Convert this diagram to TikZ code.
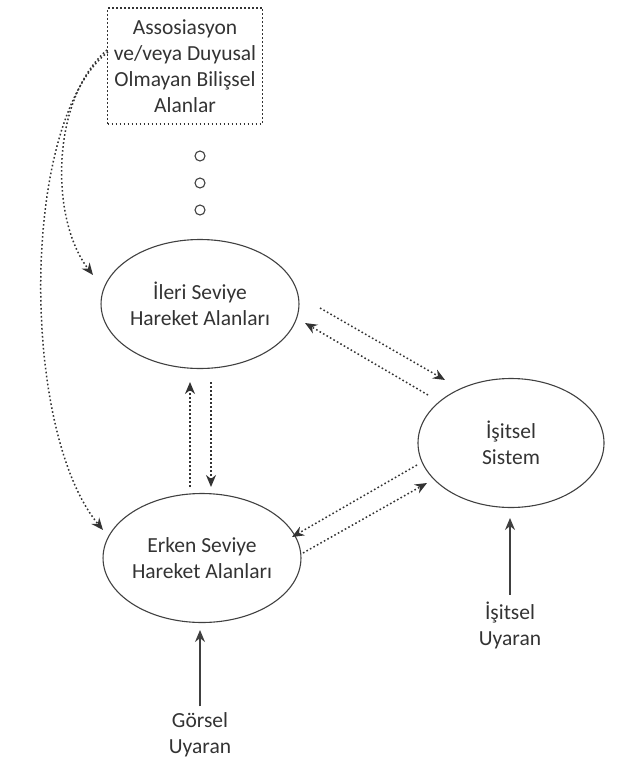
\documentclass[tikz,border=0pt]{standalone}
\usepackage{fontspec}
\setmainfont{Carlito}
\usetikzlibrary{arrows.meta,shapes.geometric,calc}
\begin{document}
\begin{tikzpicture}[x=1pt,y=-1pt,font=\fontsize{21.5}{26}\selectfont,text=black!80]
\tikzstyle{area}=[draw=black!75,line width=1.1pt,ellipse,minimum width=186pt,minimum height=129pt,inner sep=0pt,align=center]
\tikzstyle{dotline}=[line width=1.5pt,dash pattern=on 1.6pt off 2.4pt,black!80,-{Stealth[length=12pt,width=10pt]}]
\tikzstyle{stim}=[line width=1.3pt,black!75,-{Stealth[length=12pt,width=10pt]}]
\tikzstyle{dot}=[circle,draw=black!75,line width=1.1pt,minimum size=10pt,inner sep=0pt]
\useasboundingbox (0,0) rectangle (616,763);
% nodes
\node[draw=black!80,line width=1.5pt,dash pattern=on 1.6pt off 2.4pt,minimum width=155pt,minimum height=116pt,inner sep=0pt,align=center] (assoc) at (185,66) {Assosiasyon\\ve/veya Duyusal\\Olmayan Bilişsel\\Alanlar};
\foreach \n/\y in {1/156,2/183,3/210}
  \node[dot] (dot\n) at (200,\y) {};
\node[area] (ileri) at (200,304) {İleri Seviye\\Hareket Alanları};
\node[area] (erken) at (202,558) {Erken Seviye\\Hareket Alanları};
\node[area] (isitsel) at (511,443) {İşitsel\\Sistem};
\node[align=center] (gorsel) at (200,735) {Görsel\\Uyaran};
\node[align=center] (isuyaran) at (510,625) {İşitsel\\Uyaran};
% connectors
\draw[dotline] ([shift={(120,4)}]ileri.center) -- ([shift={(-66,-63)}]isitsel.center);
\draw[dotline] ([shift={(-83,-48)}]isitsel.center) -- ([shift={(105,19)}]ileri.center);
\draw[dotline] ([shift={(-94,22)}]isitsel.center) -- ([shift={(90,-21)}]erken.center);
\draw[dotline] ([shift={(101,-5)}]erken.center) -- ([shift={(-84,40)}]isitsel.center);
\draw[dotline] ([shift={(-12,-71)}]erken.center) -- ([shift={(-10,78)}]ileri.center);
\draw[dotline] ([shift={(11,78)}]ileri.center) -- ([shift={(9,-71)}]erken.center);
\draw[dotline] ([shift={(-78,-16)}]assoc.center) .. controls +(-57,50) and +(-43,-55) .. ([shift={(-107,-29)}]ileri.center);
\draw[dotline] ([shift={(-77,-14)}]assoc.center) .. controls +(-88,68) and +(-83,-100) .. ([shift={(-99,-28)}]erken.center);
\draw[stim] (gorsel.north) ++(0,-3) -- ([shift={(-2,72)}]erken.center);
\draw[stim] (isuyaran.north) ++(0,-3) -- ([shift={(-1,75)}]isitsel.center);
\end{tikzpicture}
\end{document}
